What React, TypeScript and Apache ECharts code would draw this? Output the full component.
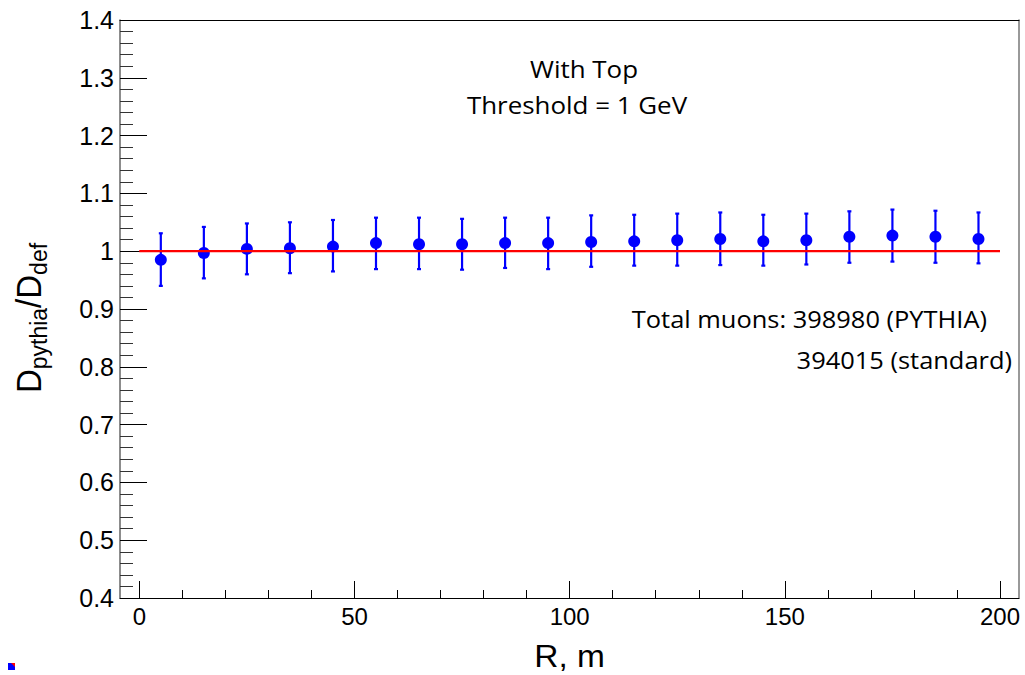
import React, { useEffect, useRef } from "react";
import * as echarts from "echarts";

// Bin centres (R, m)
const R = [5, 15, 25, 35, 45, 55, 65, 75, 85, 95, 105, 115, 125, 135, 145, 155, 165, 175, 185, 195];
// Ratio D_pythia / D_def
const ratio = [0.985, 0.997, 1.004, 1.005, 1.008, 1.014, 1.012, 1.012, 1.014, 1.014, 1.016, 1.017, 1.019, 1.021, 1.017, 1.019, 1.025, 1.027, 1.025, 1.021];
// Error bar ends
const upper = [1.031, 1.042, 1.048, 1.05, 1.054, 1.058, 1.058, 1.056, 1.058, 1.058, 1.062, 1.063, 1.065, 1.067, 1.063, 1.065, 1.069, 1.072, 1.07, 1.067];
const lower = [0.94, 0.953, 0.96, 0.962, 0.965, 0.969, 0.969, 0.968, 0.971, 0.969, 0.973, 0.975, 0.975, 0.976, 0.975, 0.977, 0.98, 0.982, 0.98, 0.979];
// Reference line y = 1
const fitX = [0, 200];
const fitY = [1, 1];

const titleLines = ["With Top", "Threshold = 1 GeV"];
const muonLines = ["Total muons: 398980 (PYTHIA)", "394015 (standard)"];

export default function App() {
  const ref = useRef<HTMLDivElement>(null);
  useEffect(() => {
    document.body.style.margin = "0";
    const chart = echarts.init(ref.current!, null, { renderer: "svg" });
    const ann = { fontFamily: "Open Sans", fontSize: 24, fill: "#000" };
    const option: any = {
      animation: false,
      backgroundColor: "#fff",
      grid: [
        { left: 120, right: 6, top: 20, bottom: 77, show: false },
        { left: 139.3, right: 25, top: 20, bottom: 77, show: false },
      ],
      xAxis: [
        {
          gridIndex: 0, type: "value", position: "bottom", min: 0, max: 1,
          axisLine: { show: true, onZero: false, lineStyle: { color: "#000", width: 1 } },
          axisTick: { show: false }, axisLabel: { show: false }, splitLine: { show: false },
        },
        {
          gridIndex: 0, type: "value", position: "top", min: 0, max: 1,
          axisLine: { show: true, onZero: false, lineStyle: { color: "#000", width: 1 } },
          axisTick: { show: false }, axisLabel: { show: false }, splitLine: { show: false },
        },
        {
          gridIndex: 1, type: "value", position: "bottom", min: 0, max: 200, interval: 50,
          axisLine: { show: false, onZero: false },
          axisTick: { show: true, inside: true, length: 17, lineStyle: { color: "#000", width: 1 } },
          minorTick: { show: true, splitNumber: 5, length: 8, lineStyle: { color: "#000", width: 1 } },
          axisLabel: { fontSize: 24, fontFamily: "Liberation Sans", color: "#000", margin: 6 },
          splitLine: { show: false },
        },
      ],
      yAxis: [
        {
          gridIndex: 0, type: "value", position: "left", min: 0.4, max: 1.4, interval: 0.1,
          axisLine: { show: true, onZero: false, lineStyle: { color: "#666", width: 1.5 } },
          axisTick: { show: true, inside: true, length: 27, lineStyle: { color: "#000", width: 1 } },
          minorTick: { show: true, splitNumber: 5, length: 13, lineStyle: { color: "#333", width: 1 } },
          axisLabel: {
            fontSize: 25, fontFamily: "Liberation Sans", color: "#000", margin: 6,
            formatter: (v: number) => String(Math.round(v * 10) / 10),
          },
          splitLine: { show: false },
        },
        {
          gridIndex: 0, type: "value", position: "right", min: 0.4, max: 1.4,
          axisLine: { show: true, onZero: false, lineStyle: { color: "#777", width: 1.5 } },
          axisTick: { show: false }, axisLabel: { show: false }, splitLine: { show: false },
        },
        { gridIndex: 1, type: "value", min: 0.4, max: 1.4, show: false, splitLine: { show: false } },
      ],
      series: [
        {
          type: "custom",
          xAxisIndex: 2, yAxisIndex: 2, z: 2,
          data: R.map((r, i) => [r, lower[i], upper[i]]),
          encode: { x: 0, y: [1, 2] },
          renderItem: (params: any, api: any) => {
            const x = api.value(0);
            const lo = api.coord([x, api.value(1)]);
            const hi = api.coord([x, api.value(2)]);
            const st = { stroke: "#0000ff", lineWidth: 2.2 };
            const cap = 2;
            return {
              type: "group",
              children: [
                { type: "line", shape: { x1: lo[0], y1: lo[1], x2: hi[0], y2: hi[1] }, style: st },
                { type: "line", shape: { x1: lo[0] - cap, y1: lo[1], x2: lo[0] + cap, y2: lo[1] }, style: st },
                { type: "line", shape: { x1: hi[0] - cap, y1: hi[1], x2: hi[0] + cap, y2: hi[1] }, style: st },
              ],
            };
          },
        },
        {
          type: "scatter",
          xAxisIndex: 2, yAxisIndex: 2, z: 3,
          symbol: "circle", symbolSize: 12,
          itemStyle: { color: "#0000ff", opacity: 1 },
          data: R.map((r, i) => [r, ratio[i]]),
        },
        {
          type: "line",
          xAxisIndex: 2, yAxisIndex: 2, z: 4,
          symbol: "none",
          lineStyle: { color: "#ff0000", width: 2.2 },
          data: fitX.map((x, i) => [x, fitY[i]]),
        },
      ],
      graphic: [
        {
          type: "text", x: 584, y: 68, scaleX: 1.08,
          style: { ...ann, text: titleLines[0], align: "center", verticalAlign: "middle" },
        },
        {
          type: "text", x: 577, y: 104, scaleX: 1.08,
          style: { ...ann, text: titleLines[1], align: "center", verticalAlign: "middle" },
        },
        {
          type: "text", x: 987, y: 319, scaleX: 1.06,
          style: { ...ann, text: muonLines[0], align: "right", verticalAlign: "middle" },
        },
        {
          type: "text", x: 1012, y: 360, scaleX: 1.06,
          style: { ...ann, text: muonLines[1], align: "right", verticalAlign: "middle" },
        },
        {
          type: "text", x: 605, y: 656, scaleX: 1.08,
          style: { text: "R, m", fontFamily: "Liberation Sans", fontSize: 31, fill: "#000", align: "right", verticalAlign: "middle" },
        },
        {
          type: "text", x: 29, y: 318, rotation: Math.PI / 2, scaleY: 1.08,
          style: {
            text: "{a|D}{b|pythia}{a|/D}{b|def}",
            align: "center",
            verticalAlign: "middle",
            rich: {
              a: { fontSize: 33, fontFamily: "Liberation Sans", fill: "#000", lineHeight: 40 },
              b: { fontSize: 23, fontFamily: "Liberation Sans", fill: "#000", verticalAlign: "bottom", lineHeight: 22 },
            },
          },
        },
        { type: "rect", shape: { x: 8, y: 663, width: 7, height: 7 }, style: { fill: "#0000ff" } },
        { type: "polygon", shape: { points: [[11, 663], [15, 663], [15, 667]] }, style: { fill: "#ff0000" } },
      ],
    };
    chart.setOption(option);
    return () => chart.dispose();
  }, []);
  return <div ref={ref} style={{ width: 1025, height: 675 }} />;
}
